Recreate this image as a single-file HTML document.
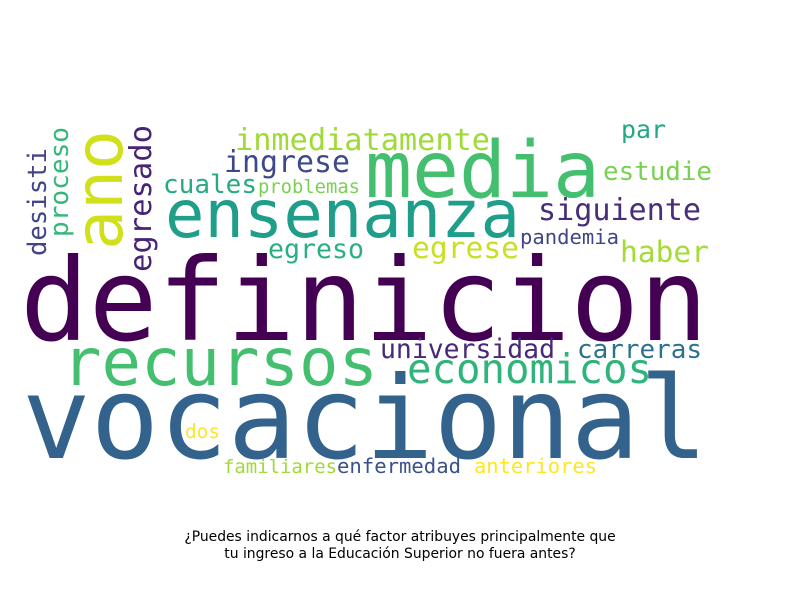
<!DOCTYPE html>
<html><head><meta charset="utf-8"><style>
html,body{margin:0;padding:0;background:#fff;}
svg{display:block;}
.w{font-family:"DejaVu Sans Mono","Liberation Mono",monospace;}
.t{font-family:"DejaVu Sans","Liberation Sans",sans-serif;font-size:13.9px;fill:#000;}
</style></head><body>
<svg width="800" height="600" viewBox="0 0 800 600">
<g class="w">
<text x="20" y="340" font-size="114" fill="#440154" textLength="688" lengthAdjust="spacingAndGlyphs">definicion</text>
<text x="22" y="458" font-size="114" fill="#33638d" textLength="686" lengthAdjust="spacingAndGlyphs">vocacional</text>
<text x="62" y="385" font-size="66" fill="#44bf70" textLength="316" lengthAdjust="spacingAndGlyphs">recursos</text>
<text x="365" y="197" font-size="78" fill="#44bf70" textLength="235" lengthAdjust="spacingAndGlyphs">media</text>
<text x="165" y="237" font-size="65.5" fill="#1f9e89" textLength="355" lengthAdjust="spacingAndGlyphs">ensenanza</text>
<text x="407" y="383" font-size="41" fill="#2fb47c" textLength="245" lengthAdjust="spacingAndGlyphs">economicos</text>
<text x="235" y="150" font-size="30" fill="#a0da39" textLength="255" lengthAdjust="spacingAndGlyphs">inmediatamente</text>
<text x="224" y="172" font-size="30" fill="#3e4989" textLength="126" lengthAdjust="spacingAndGlyphs">ingrese</text>
<text x="163" y="193" font-size="26" fill="#25ab82" textLength="94" lengthAdjust="spacingAndGlyphs">cuales</text>
<text x="258" y="193" font-size="18.8" fill="#7ad151" textLength="102" lengthAdjust="spacingAndGlyphs">problemas</text>
<text x="538" y="220" font-size="30" fill="#472d7b" textLength="163" lengthAdjust="spacingAndGlyphs">siguiente</text>
<text x="520" y="244" font-size="20.5" fill="#414487" textLength="99" lengthAdjust="spacingAndGlyphs">pandemia</text>
<text x="268" y="258" font-size="26.6" fill="#2ab07f" textLength="96" lengthAdjust="spacingAndGlyphs">egreso</text>
<text x="412" y="258" font-size="29.6" fill="#c8e020" textLength="107" lengthAdjust="spacingAndGlyphs">egrese</text>
<text x="620" y="262" font-size="29.6" fill="#a5db36" textLength="89" lengthAdjust="spacingAndGlyphs">haber</text>
<text x="621" y="138" font-size="25" fill="#22a884" textLength="45" lengthAdjust="spacingAndGlyphs">par</text>
<text x="603" y="180" font-size="26" fill="#7ad151" textLength="109" lengthAdjust="spacingAndGlyphs">estudie</text>
<text x="380" y="358" font-size="26.4" fill="#482878" textLength="175" lengthAdjust="spacingAndGlyphs">universidad</text>
<text x="577" y="358" font-size="26" fill="#2c728e" textLength="125" lengthAdjust="spacingAndGlyphs">carreras</text>
<text x="185" y="438" font-size="19.4" fill="#fde725" textLength="35" lengthAdjust="spacingAndGlyphs">dos</text>
<text x="223" y="473" font-size="19" fill="#a0da39" textLength="114" lengthAdjust="spacingAndGlyphs">familiares</text>
<text x="337" y="473" font-size="20.6" fill="#3b528b" textLength="124" lengthAdjust="spacingAndGlyphs">enfermedad</text>
<text x="474" y="473" font-size="20.4" fill="#fde725" textLength="123" lengthAdjust="spacingAndGlyphs">anteriores</text>
<text transform="translate(122,250) rotate(-90)" font-size="66" fill="#d0e11c" textLength="120" lengthAdjust="spacingAndGlyphs">ano</text>
<text transform="translate(46,256) rotate(-90)" font-size="25.6" fill="#414487" textLength="108" lengthAdjust="spacingAndGlyphs">desisti</text>
<text transform="translate(68,237) rotate(-90)" font-size="26" fill="#35b779" textLength="110" lengthAdjust="spacingAndGlyphs">proceso</text>
<text transform="translate(151,272) rotate(-90)" font-size="30.5" fill="#482475" textLength="147" lengthAdjust="spacingAndGlyphs">egresado</text>
</g>
<g>
<text class="t" x="400" y="541" text-anchor="middle">¿Puedes indicarnos a qué factor atribuyes principalmente que</text>
<text class="t" x="400" y="558" text-anchor="middle">tu ingreso a la Educación Superior no fuera antes?</text>
</g>
</svg>
</body></html>
